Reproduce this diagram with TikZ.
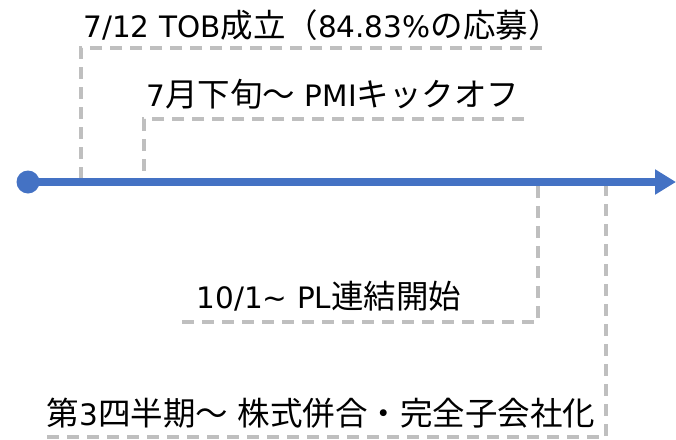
\documentclass[tikz,border=0pt]{standalone}
\usepackage{fontspec}
\setmainfont{Noto Sans CJK JP}
\newfontfamily\latfont{DejaVu Sans}[Scale=0.908]
\newcommand\LT[1]{{\latfont #1}}
\usetikzlibrary{arrows.meta}
\definecolor{tlblue}{HTML}{4472C4}
\definecolor{dashgray}{HTML}{BFBFBF}
\begin{document}
\begin{tikzpicture}[x=1pt,y=-1pt,
  leader/.style={draw=dashgray,line width=4.5pt,dash pattern=on 12pt off 8pt},
  evlabel/.style={inner sep=0pt,anchor=base,font=\fontsize{32.5}{38}\selectfont},
  timeline/.style={draw=tlblue,line width=7.5pt,-{Triangle[length=21pt,width=24pt]}},
  dot/.style={circle,fill=tlblue,minimum size=23pt,inner sep=0pt}]
\useasboundingbox (0,0) rectangle (676,439);
% leaders
\coordinate (t1) at (81,182); \coordinate (c1) at (81,48); \coordinate (e1) at (542,48);
\coordinate (t2) at (144,182); \coordinate (c2) at (144,119); \coordinate (e2) at (524,119);
\coordinate (t3) at (538,182); \coordinate (c3) at (538,322); \coordinate (e3) at (182,322);
\coordinate (t4) at (606,182); \coordinate (c4) at (606,437); \coordinate (e4) at (47,437);
\draw[leader] (e1) -- (c1) -- (t1);
\draw[leader] (e2) -- (c2) -- (t2);
\draw[leader] (e3) -- (c3) -- (t3);
\draw[leader] (e4) -- (c4) -- (t4);
% timeline
\node[dot] (origin) at (28,182) {};
\coordinate (tip) at (676,182);
\draw[timeline] (origin.center) -- (tip);
% labels
\node[evlabel] (l1) at (322,37) {\LT{7/12 TOB}成立（\LT{84.83\%}の応募）};
\node[evlabel] (l2) at (333,106) {\LT{7}月下旬～\LT{ PMI}キックオフ};
\node[evlabel] (l3) at (329,308) {\LT{10/1\textasciitilde{} PL}連結開始};
\node[evlabel] (l4) at (321,425) {第\LT{3}四半期～\LT{ }株式併合・完全子会社化};
\end{tikzpicture}
\end{document}
